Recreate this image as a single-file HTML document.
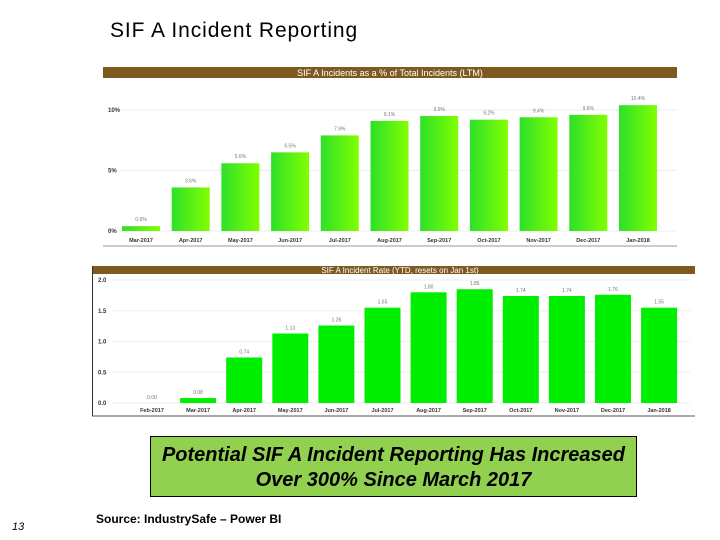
<!DOCTYPE html>
<html><head><meta charset="utf-8"><style>
body{margin:0;width:720px;height:540px;background:#fff;position:relative;overflow:hidden;font-family:"Liberation Sans",sans-serif}
.abs{position:absolute}
</style></head><body>
<div class="abs" style="left:110px;top:19px;font-size:21px;letter-spacing:0.9px;color:#000">SIF A Incident Reporting</div>
<svg class="abs" style="left:0;top:0" width="720" height="540">
<defs><linearGradient id="g1" x1="0" x2="1" y1="0" y2="0"><stop offset="0" stop-color="#2ee02a"/><stop offset="1" stop-color="#80ff00"/></linearGradient></defs>
<g id="c1"></g>
<g id="c2"></g>
</svg>
<div class="abs" style="left:150px;top:436px;width:487px;height:61px;background:#92d050;border:1px solid #000;font-size:20px;font-weight:bold;font-style:italic;text-align:center;line-height:25px;padding-top:6px;box-sizing:border-box">Potential SIF A Incident Reporting Has Increased<br>Over 300% Since March 2017</div>
<div class="abs" style="left:96px;top:512px;font-size:12px;font-weight:bold">Source: IndustrySafe – Power BI</div>
<div class="abs" style="left:12px;top:521px;font-size:11px;font-style:italic">13</div>
<script>
const cats1=["Mar-2017","Apr-2017","May-2017","Jun-2017","Jul-2017","Aug-2017","Sep-2017","Oct-2017","Nov-2017","Dec-2017","Jan-2018"];
const vals1=[0.4,3.6,5.6,6.5,7.9,9.1,9.5,9.2,9.4,9.6,10.4];
const lbls1=["0.6%","3.6%","5.6%","6.5%","7.9%","9.1%","9.5%","9.2%","9.4%","9.6%","10.4%"];
const ticks1=[0,5,10];
const cats2=["Feb-2017","Mar-2017","Apr-2017","May-2017","Jun-2017","Jul-2017","Aug-2017","Sep-2017","Oct-2017","Nov-2017","Dec-2017","Jan-2018"];
const vals2=[0.00,0.08,0.74,1.13,1.26,1.55,1.80,1.85,1.74,1.74,1.76,1.55];
const ticks2=[0,0.5,1.0,1.5,2.0];
const NS="http://www.w3.org/2000/svg";
function mk(p,t,a,txt){const e=document.createElementNS(NS,t);for(const k in a)e.setAttribute(k,a[k]);if(txt!=null)e.textContent=txt;p.appendChild(e);return e;}
// chart 1
const c1=document.getElementById('c1');
let e=mk(c1,'rect',{x:103,y:67,width:574,height:11,fill:'#7f5a20'});

mk(c1,'text',{x:390,y:76,'font-size':9,fill:'#fff','text-anchor':'middle'},"SIF A Incidents as a % of Total Incidents (LTM)");
const y1=v=>231-v*12.1, x1=i=>141+i*49.7;
ticks1.forEach(t=>{mk(c1,'line',{x1:120,x2:677,y1:y1(t),y2:y1(t),stroke:'#eee'});
 e=mk(c1,'text',{x:108,y:y1(t)+2,'font-size':6,'font-weight':'bold',fill:'#333'},t+"%");
 });
vals1.forEach((v,i)=>{e=mk(c1,'rect',{x:x1(i)-19,y:y1(v),width:38,height:y1(0)-y1(v),fill:'url(#g1)'});
 
 mk(c1,'text',{x:x1(i),y:y1(v)-5,'font-size':5,fill:'#777','text-anchor':'middle'},lbls1[i]);
 e=mk(c1,'text',{x:x1(i),y:242,'font-size':5.5,'font-weight':'bold',fill:'#333','text-anchor':'middle'},cats1[i]);
 });
mk(c1,'line',{x1:103,x2:677,y1:246,y2:246,stroke:'#999'});
// chart 2
const c2=document.getElementById('c2');
e=mk(c2,'rect',{x:92,y:266,width:603,height:8,fill:'#7f5a20'});

mk(c2,'text',{x:400,y:273,'font-size':8,fill:'#fff','text-anchor':'middle'},"SIF A Incident Rate (YTD, resets on Jan 1st)");
mk(c2,'line',{x1:92.5,x2:92.5,y1:266,y2:416,stroke:'#333'});
mk(c2,'line',{x1:92,x2:695,y1:416,y2:416,stroke:'#555'});
const y2=v=>403-v*61.5, x2=i=>152+i*46.1;
ticks2.forEach(t=>{mk(c2,'line',{x1:112,x2:690,y1:y2(t),y2:y2(t),stroke:'#eee'});
 e=mk(c2,'text',{x:98,y:y2(t)+2,'font-size':6,'font-weight':'bold',fill:'#333'},t.toFixed(1));
 });
vals2.forEach((v,i)=>{e=mk(c2,'rect',{x:x2(i)-18,y:y2(v),width:36,height:Math.max(0,y2(0)-y2(v)),fill:'#00ee00'});
 
 mk(c2,'text',{x:x2(i),y:y2(v)-4,'font-size':5,fill:'#777','text-anchor':'middle'},v.toFixed(2));
 e=mk(c2,'text',{x:x2(i),y:412,'font-size':5.5,'font-weight':'bold',fill:'#333','text-anchor':'middle'},cats2[i]);
 });
</script>
</body></html>
